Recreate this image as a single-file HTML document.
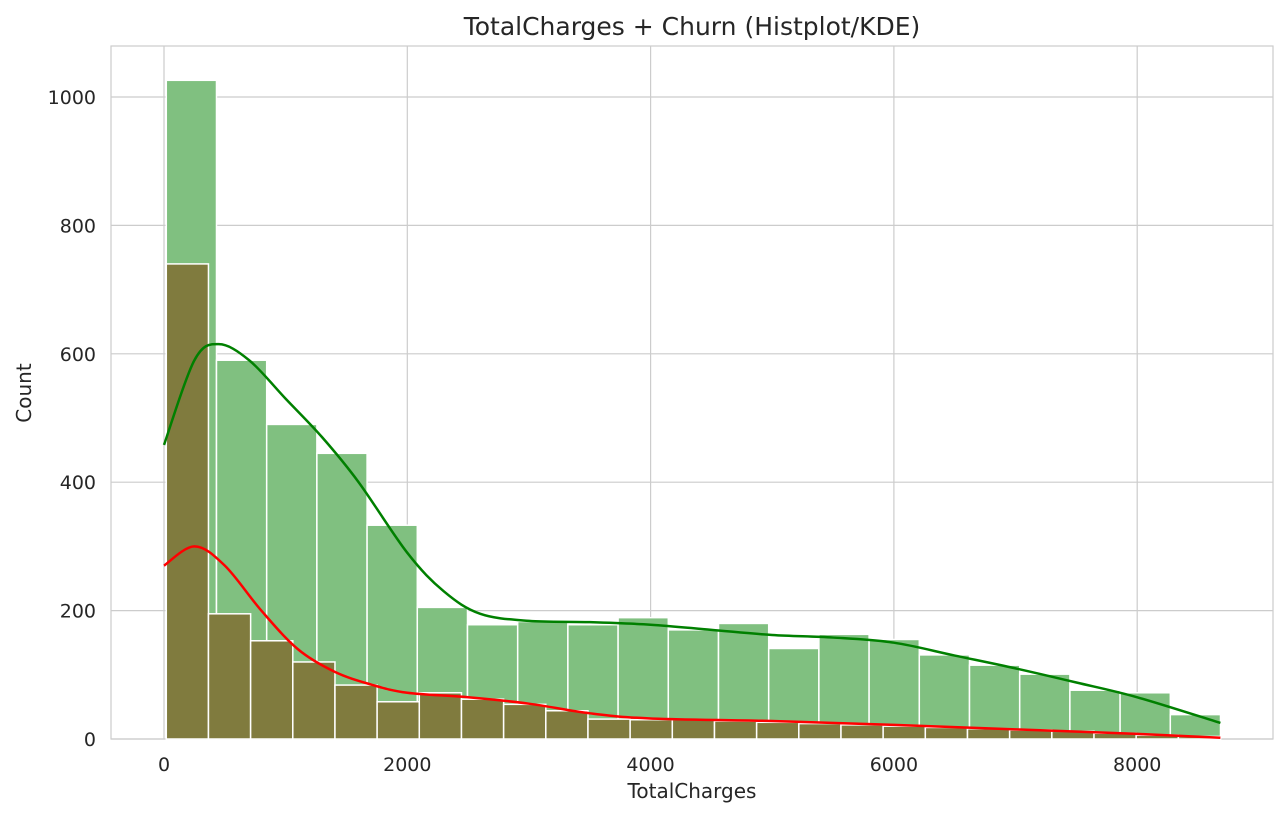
<!DOCTYPE html>
<html><head><meta charset="utf-8"><style>
body{margin:0;background:#fff;font-family:"Liberation Sans","DejaVu Sans",sans-serif}
svg text{font-family:"DejaVu Sans","Liberation Sans",sans-serif;fill:#262626}
</style></head><body>
<svg id="c" width="1288" height="817"></svg>
<script>
const greenCounts=[1026,590,490,445,333,205,178,183,178,189,170,180,141,163,155,131,115,101,76,72,38];
const redCounts=[740,195,153,120,84,58,72,62,54,44,31,30,30,28,26,24,22,20,18,16,14,12,9,6,4];
const binMin=18.8, binMax=8684.8;
const greenKdeX=[0,250,450,700,1000,1300,1600,2000,2300,2600,3000,3500,4000,4500,5000,5500,6000,6500,7000,7500,8000,8684];
const greenKdeY=[458,590,615,590,530,470,400,290,230,195,184,182,178,170,162,158,150,130,110,88,65,25];
const redKdeX=[0,250,500,800,1100,1400,1700,2000,2500,3000,3500,4000,5000,6000,7000,8000,8684];
const redKdeY=[270,300,270,200,140,105,85,72,65,55,40,32,28,22,15,8,2];
const xTicks=[0,2000,4000,6000,8000];
const yTicks=[0,200,400,600,800,1000];
const L=111,R=1273,T=46,B=739;
const sx=v=>164+v*0.12165, sy=v=>739-v*0.642;
const svg=document.getElementById('c');const NS='http://www.w3.org/2000/svg';
function mk(t,a,p){const e=document.createElementNS(NS,t);for(const k in a)e.setAttribute(k,a[k]);(p||svg).appendChild(e);return e;}
let bg=mk('rect',{x:L,y:T,width:R-L,height:B-T,fill:'#fff',stroke:'#ccc','stroke-width':1.2});


xTicks.forEach(v=>{let l=mk('line',{x1:sx(v),x2:sx(v),y1:T,y2:B,stroke:'#ccc','stroke-width':1.2});


let t=mk('text',{x:sx(v),y:771,'text-anchor':'middle','font-size':19});t.textContent=v;

});
yTicks.forEach(v=>{let l=mk('line',{x1:L,x2:R,y1:sy(v),y2:sy(v),stroke:'#ccc','stroke-width':1.2});


let t=mk('text',{x:96,y:sy(v)+7,'text-anchor':'end','font-size':19});t.textContent=v;

});
function bars(counts,fill,name){const w=(binMax-binMin)/counts.length;counts.forEach((c,i)=>{
let r=mk('rect',{x:sx(binMin+i*w),y:sy(c),width:sx(binMin+(i+1)*w)-sx(binMin+i*w),height:sy(0)-sy(c),fill:fill,stroke:'#fff','stroke-width':1.5});

});}
bars(greenCounts,'#80c080','bar-no-churn');
bars(redCounts,'#807b3e','bar-churn');
function curve(xs,ys,col,name){const p=xs.map((x,i)=>[sx(x),sy(ys[i])]);let d='M'+p[0];
for(let i=0;i<p.length-1;i++){const p0=p[Math.max(0,i-1)],p1=p[i],p2=p[i+1],p3=p[Math.min(p.length-1,i+2)];
d+=' C'+(p1[0]+(p2[0]-p0[0])/6)+','+(p1[1]+(p2[1]-p0[1])/6)+' '+(p2[0]-(p3[0]-p1[0])/6)+','+(p2[1]-(p3[1]-p1[1])/6)+' '+p2;}
let e=mk('path',{d:d,fill:'none',stroke:col,'stroke-width':2.5});

}
curve(greenKdeX,greenKdeY,'#008000','kde-no-churn');
curve(redKdeX,redKdeY,'#ff0000','kde-churn');
let t=mk('text',{x:692,y:35,'text-anchor':'middle','font-size':25});t.textContent='TotalCharges + Churn (Histplot/KDE)';


t=mk('text',{x:692,y:798,'text-anchor':'middle','font-size':20});t.textContent='TotalCharges';


t=mk('text',{x:31,y:393,'text-anchor':'middle','font-size':20,transform:'rotate(-90 31 393)'});t.textContent='Count';


</script></body></html>
